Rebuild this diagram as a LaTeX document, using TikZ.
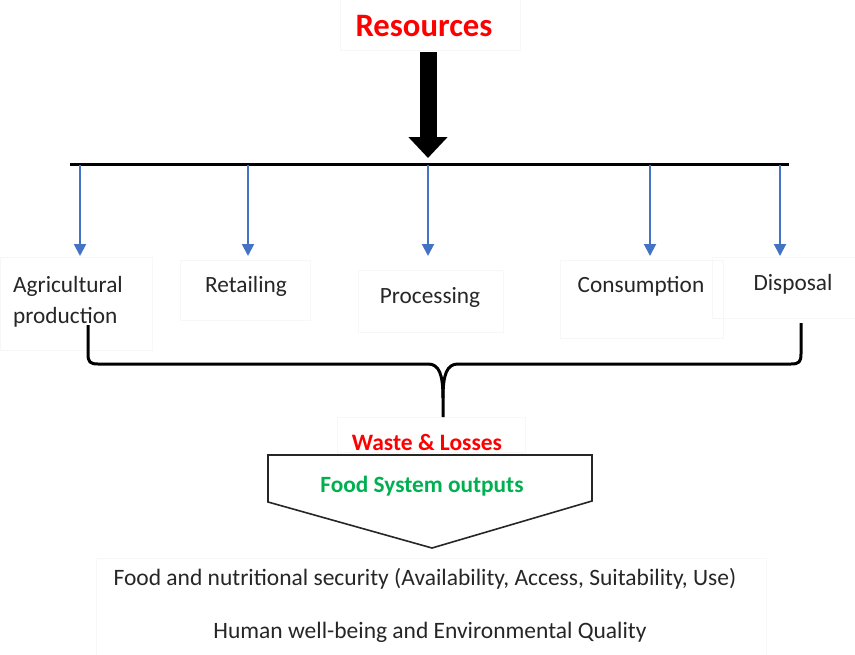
\documentclass[tikz,border=0pt]{standalone}
\usepackage{fontspec}
\setmainfont{Carlito}
\usetikzlibrary{arrows.meta}
\definecolor{flowblue}{HTML}{4472C4}
\definecolor{outgreen}{HTML}{00B050}
\definecolor{txtgray}{HTML}{262626}
\tikzset{
  stage/.style={font=\fontsize{23.3}{31}\selectfont, text=txtgray, inner sep=0pt},
  frame/.style={draw=black!3, line width=0.5},
  feed/.style={draw=flowblue, line width=2, -{Triangle[width=12,length=12]}},
  bar/.style={draw=black, line width=3},
  brace/.style={draw=black, line width=3, line join=round},
  outline/.style={draw=black!85, line width=1.6, line join=miter},
  note/.style={font=\fontsize{23.5}{30}\selectfont, text=txtgray, inner sep=0pt}
}
\begin{document}
\begin{tikzpicture}[x=1pt,y=-1pt]
\useasboundingbox (0,0) rectangle (855,654);

% faint text-box frames
\draw[frame] (340,-2) rectangle (520,50);
\draw[frame] (0,257) rectangle (152,350);
\draw[frame] (180,260) rectangle (310,320);
\draw[frame] (358,270) rectangle (503,332);
\draw[frame] (560,260) rectangle (723,338);
\draw[frame] (712,257) rectangle (857,318);
\draw[frame] (337,417) rectangle (525,452);
\draw[frame] (96,558) rectangle (766,656);

% title and resource input
\node[anchor=base, font=\bfseries\fontsize{32.7}{36}\selectfont, text=red, inner sep=0pt] (res) at (424,36) {Resources};
\coordinate (inTop) at (428,52);
\coordinate (inTip) at (428,158);
\draw[line width=17, draw=black, -{Triangle[width=38,length=21]}] (inTop) -- (inTip);

% distribution bar
\coordinate (barL) at (70,164);
\coordinate (barR) at (789,164);
\draw[bar] (barL) -- (barR);

% stages
\node[stage, anchor=base west, align=left] (agri) at (13,323) {Agricultural\\production};
\node[stage, anchor=base] (retail) at (246,292) {Retailing};
\node[stage, anchor=base] (proc) at (430,303) {Processing};
\node[stage, anchor=base] (cons) at (641,292) {Consumption};
\node[stage, anchor=base] (disp) at (793,290) {Disposal};

% feeds from the bar to each stage
\foreach \n/\x in {agri/80, retail/248, proc/428, cons/650, disp/780}{
  \coordinate (\n Top) at (\x,165);
  \coordinate (\n Tip) at (\x,256);
  \draw[feed] (\n Top) -- (\n Tip);
}

% brace gathering all stages
\coordinate (brL) at (88,325);
\coordinate (brR) at (801,323);
\coordinate (brTip) at (443,417);
\draw[brace] (brL) -- (88,354) .. controls (88,362) and (90,364) .. (98,364)
  -- (428,364) .. controls (439,364) and (443,374) .. (443,398) -- (brTip);
\draw[brace] (brR) -- (801,354) .. controls (801,362) and (799,364) .. (791,364)
  -- (458,364) .. controls (447,364) and (443,374) .. (443,398);

% waste and outputs
\node[anchor=base, font=\bfseries\fontsize{23.5}{26}\selectfont, text=red, inner sep=0pt] (waste) at (427,450) {Waste \& Losses};
\coordinate (pTL) at (268,455);
\coordinate (pTR) at (592,455);
\coordinate (pBR) at (592,501);
\coordinate (pTip) at (432,548);
\coordinate (pBL) at (268,502);
\draw[outline] (pTL) -- (pTR) -- (pBR) -- (pTip) -- (pBL) -- cycle;
\node[anchor=base, font=\bfseries\fontsize{23.3}{26}\selectfont, text=outgreen, inner sep=0pt] (outputs) at (422,492) {Food System outputs};

% resulting goals
\node[note, anchor=base] (security) at (425,585) {Food and nutritional security (Availability, Access, Suitability, Use)};
\node[note, anchor=base] (wellbeing) at (430,638) {Human well-being and Environmental Quality};
\end{tikzpicture}
\end{document}
